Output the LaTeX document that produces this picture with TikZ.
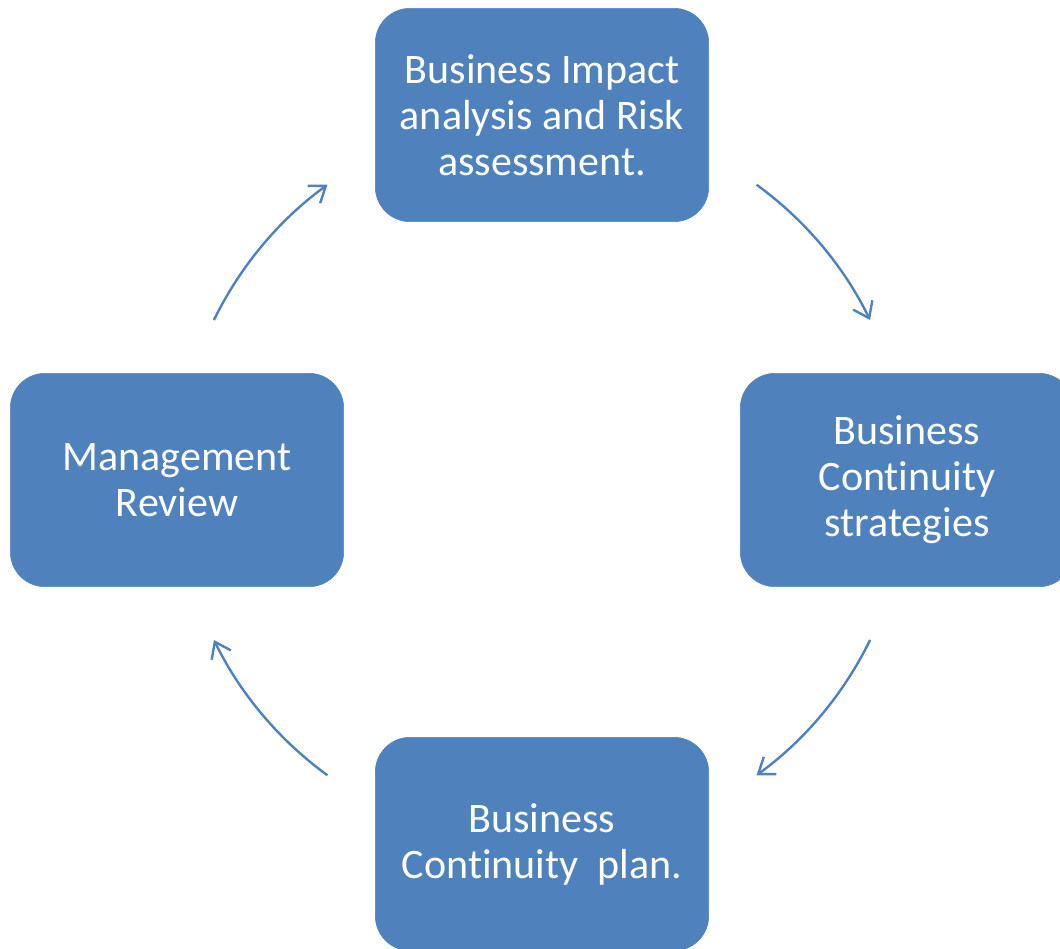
\documentclass[tikz,border=0pt]{standalone}
\usepackage{fontspec}
\setmainfont[Ligatures=NoCommon]{Carlito}
\usetikzlibrary{arrows.meta, calc}
\definecolor{bleu}{HTML}{4F81BD}

\begin{document}
\begin{tikzpicture}[x=0.75pt, y=-0.75pt]
\tikzset{etape/.style={fill=bleu, draw=bleu, rounded corners=26pt, minimum width=250pt, minimum height=160pt, text=white, align=center, font=\fontsize{31.5}{34.5}\selectfont}}
\tikzset{fleche/.style={draw=bleu, line width=1.8pt, -{Straight Barb[length=11pt, width=16pt]}}}
\useasboundingbox (0, 0) rectangle (1060, 949);
\clip (0, 0) rectangle (1060, 949);
\node[etape] (BIA) at (542, 115) {Business Impact\\analysis and Risk\\assessment.};
\node[etape] (BCS) at (907, 480) {Business\\Continuity\\strategies};
\node[etape] (BCP) at (542, 844) {Business\\Continuity\ \ plan.};
\node[etape] (MR) at (177, 480) {Management\\Review};
\coordinate (O) at (542, 480);
\coordinate (A1) at ($(O)+(54:273.75pt)$);
\coordinate (A2) at ($(O)+(-26:273.75pt)$);
\coordinate (A3) at ($(O)+(-126:273.75pt)$);
\coordinate (A4) at ($(O)+(154:273.75pt)$);
\draw[fleche] (A1) arc[start angle=54, end angle=26, radius=273.75pt];
\draw[fleche] (A2) arc[start angle=-26, end angle=-54, radius=273.75pt];
\draw[fleche] (A3) arc[start angle=-126, end angle=-154, radius=273.75pt];
\draw[fleche] (A4) arc[start angle=154, end angle=126, radius=273.75pt];
\end{tikzpicture}
\end{document}
